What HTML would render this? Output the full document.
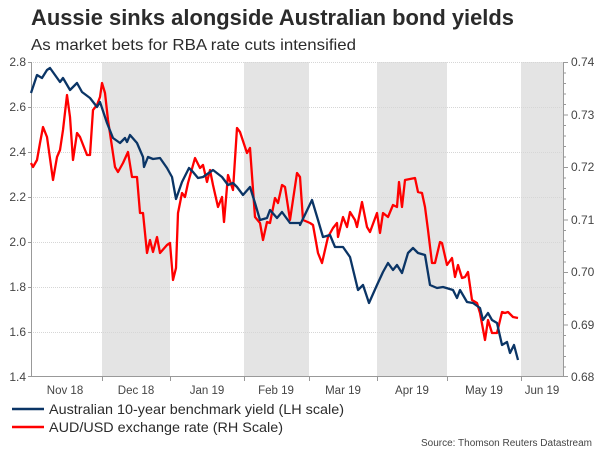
<!DOCTYPE html>
<html><head><meta charset="utf-8"><style>
html,body{margin:0;padding:0;background:#fff;}
svg{display:block;font-family:"Liberation Sans",Arial,sans-serif;}
</style></head><body>
<svg width="600" height="450" viewBox="0 0 600 450">
<rect width="600" height="450" fill="#fff"/>
<text x="31" y="25" font-size="22" font-weight="bold" fill="#2b2b2b" textLength="483" lengthAdjust="spacingAndGlyphs">Aussie sinks alongside Australian bond yields</text>
<text x="31" y="50" font-size="16" fill="#2b2b2b" textLength="325" lengthAdjust="spacingAndGlyphs">As market bets for RBA rate cuts intensified</text>
<g fill="#e4e4e4">
<rect x="102" y="62" width="68" height="315"/>
<rect x="244" y="62" width="65" height="315"/>
<rect x="377" y="62" width="70" height="315"/>
<rect x="521" y="62" width="42" height="315"/>
</g>
<g stroke="#d6d6d6" stroke-width="1" stroke-dasharray="1,1">
<line x1="31" y1="62.5" x2="563" y2="62.5"/>
<line x1="31" y1="107.5" x2="563" y2="107.5"/>
<line x1="31" y1="152.5" x2="563" y2="152.5"/>
<line x1="31" y1="197.5" x2="563" y2="197.5"/>
<line x1="31" y1="242.5" x2="563" y2="242.5"/>
<line x1="31" y1="287.5" x2="563" y2="287.5"/>
<line x1="31" y1="332.5" x2="563" y2="332.5"/>
</g>
<g stroke="#999" stroke-width="1">
<line x1="31.5" y1="62" x2="31.5" y2="377"/>
<line x1="31" y1="376.5" x2="563" y2="376.5"/>
<line x1="563.5" y1="62" x2="563.5" y2="377"/>
<line x1="102.5" y1="377" x2="102.5" y2="381"/>
<line x1="170.5" y1="377" x2="170.5" y2="381"/>
<line x1="244.5" y1="377" x2="244.5" y2="381"/>
<line x1="309.5" y1="377" x2="309.5" y2="381"/>
<line x1="377.5" y1="377" x2="377.5" y2="381"/>
<line x1="447.5" y1="377" x2="447.5" y2="381"/>
<line x1="521.5" y1="377" x2="521.5" y2="381"/>
<line x1="28" y1="62.5" x2="31" y2="62.5"/><line x1="28" y1="107.5" x2="31" y2="107.5"/><line x1="28" y1="152.5" x2="31" y2="152.5"/><line x1="28" y1="197.5" x2="31" y2="197.5"/><line x1="28" y1="242.5" x2="31" y2="242.5"/><line x1="28" y1="287.5" x2="31" y2="287.5"/><line x1="28" y1="332.5" x2="31" y2="332.5"/><line x1="28" y1="376.5" x2="31" y2="376.5"/>
<line x1="563" y1="62.5" x2="568" y2="62.5"/><line x1="563" y1="115" x2="568" y2="115"/><line x1="563" y1="167.5" x2="568" y2="167.5"/><line x1="563" y1="220" x2="568" y2="220"/><line x1="563" y1="272.5" x2="568" y2="272.5"/><line x1="563" y1="325" x2="568" y2="325"/><line x1="563" y1="376.5" x2="568" y2="376.5"/>
</g>
<g stroke="#999" stroke-width="1">
<line x1="563" y1="73" x2="566" y2="73"/><line x1="563" y1="83.5" x2="566" y2="83.5"/><line x1="563" y1="94" x2="566" y2="94"/><line x1="563" y1="104.5" x2="566" y2="104.5"/>
<line x1="563" y1="125.5" x2="566" y2="125.5"/><line x1="563" y1="136" x2="566" y2="136"/><line x1="563" y1="146.5" x2="566" y2="146.5"/><line x1="563" y1="157" x2="566" y2="157"/>
<line x1="563" y1="178" x2="566" y2="178"/><line x1="563" y1="188.5" x2="566" y2="188.5"/><line x1="563" y1="199" x2="566" y2="199"/><line x1="563" y1="209.5" x2="566" y2="209.5"/>
<line x1="563" y1="230.5" x2="566" y2="230.5"/><line x1="563" y1="241" x2="566" y2="241"/><line x1="563" y1="251.5" x2="566" y2="251.5"/><line x1="563" y1="262" x2="566" y2="262"/>
<line x1="563" y1="283" x2="566" y2="283"/><line x1="563" y1="293.5" x2="566" y2="293.5"/><line x1="563" y1="304" x2="566" y2="304"/><line x1="563" y1="314.5" x2="566" y2="314.5"/>
<line x1="563" y1="335.5" x2="566" y2="335.5"/><line x1="563" y1="346" x2="566" y2="346"/><line x1="563" y1="356.5" x2="566" y2="356.5"/><line x1="563" y1="367" x2="566" y2="367"/>
</g>
<g font-size="12" fill="#444" text-anchor="end">
<text x="26" y="66">2.8</text><text x="26" y="111">2.6</text><text x="26" y="156">2.4</text><text x="26" y="201">2.2</text><text x="26" y="246">2.0</text><text x="26" y="291">1.8</text><text x="26" y="336">1.6</text><text x="26" y="381">1.4</text>
</g>
<g font-size="12" fill="#444">
<text x="571" y="66">0.74</text><text x="571" y="119">0.73</text><text x="571" y="171">0.72</text><text x="571" y="224">0.71</text><text x="571" y="276">0.70</text><text x="571" y="329">0.69</text><text x="571" y="381">0.68</text>
</g>
<g font-size="11.5" fill="#444" text-anchor="middle">
<text x="65" y="394">Nov 18</text><text x="136" y="394">Dec 18</text><text x="207" y="394">Jan 19</text><text x="276" y="394">Feb 19</text><text x="343" y="394">Mar 19</text><text x="412" y="394">Apr 19</text><text x="484" y="394">May 19</text><text x="542" y="394">Jun 19</text>
</g>
<polyline fill="none" stroke="#ff0000" stroke-width="2.3" stroke-linejoin="round" points="31,163 33,167 37,160 40,143 43,127 47,137 53,180 57,157 60,150 63,130 67,95 70,117 73,160 77,133 80,137 87,155 90,155 93,110 97,105 100,97 102,83 105,93 108,120 115,167 118,172 123,163 128,152 132,177 137,177 140,213 143,213 147,253 150,240 153,252 157,237 160,253 167,245 170,243 173,280 176,268 178,213 182,193 185,197 188,183 195,158 200,168 203,165 207,182 210,170 213,185 218,207 222,197 224,222 228,175 233,190 237,128 240,132 247,153 250,148 255,217 260,223 263,240 267,222 270,223 275,198 278,203 282,185 285,187 290,220 297,173 300,177 303,220 310,223 313,225 318,253 322,263 328,237 333,228 337,223 338,237 343,217 347,227 350,212 355,220 357,227 362,202 367,227 370,232 377,213 380,233 383,213 388,217 393,205 397,207 399,182 402,207 405,180 415,178 418,192 422,193 425,207 428,230 432,263 435,263 440,242 442,243 447,265 452,258 455,277 458,265 462,278 465,277 468,272 472,300 477,303 480,313 485,340 488,320 492,333 497,333 502,312 505,313 508,312 513,317 518,318"/>
<polyline fill="none" stroke="#0b3566" stroke-width="2.3" stroke-linejoin="round" points="31,93 37,75 42,78 47,70 50,68 55,75 60,82 63,78 70,90 77,83 82,92 90,98 97,107 100,102 107,123 113,138 120,143 125,138 127,142 130,135 137,143 143,157 144,167 148,157 153,159 160,158 167,168 172,177 176,199 182,182 189,168 193,172 198,178 203,177 213,170 222,177 228,185 233,183 237,187 243,195 250,187 255,203 260,220 267,218 270,210 277,218 282,212 290,223 300,223 300,225 312,200 318,220 323,237 330,235 335,247 343,247 350,257 358,290 363,285 369,303 377,285 383,272 388,263 393,270 397,265 402,273 408,253 413,248 418,253 425,255 430,285 437,288 443,287 453,290 457,298 460,290 467,302 473,303 480,308 483,320 488,313 492,320 497,323 502,345 507,342 510,353 514,345 518,360"/>
<line x1="12" y1="409" x2="44" y2="409" stroke="#0b3566" stroke-width="2.5"/>
<line x1="12" y1="427" x2="44" y2="427" stroke="#ff0000" stroke-width="2.5"/>
<text x="49" y="414" font-size="14" fill="#2b2b2b" textLength="295" lengthAdjust="spacingAndGlyphs">Australian 10-year benchmark yield (LH scale)</text>
<text x="49" y="432" font-size="14" fill="#2b2b2b" textLength="234" lengthAdjust="spacingAndGlyphs">AUD/USD exchange rate (RH Scale)</text>
<text x="592" y="446" font-size="10" fill="#444" text-anchor="end" textLength="171" lengthAdjust="spacingAndGlyphs">Source: Thomson Reuters Datastream</text>
</svg>
</body></html>
